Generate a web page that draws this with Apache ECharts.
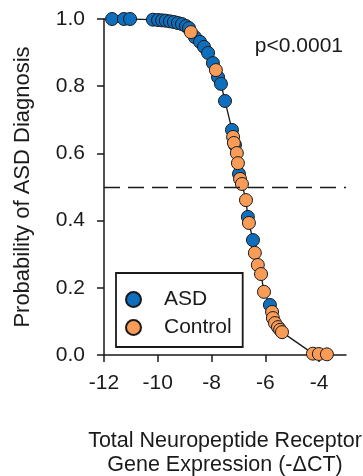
<!DOCTYPE html>
<html>
<head>
<meta charset="utf-8">
<script src="https://cdn.jsdelivr.net/npm/echarts@6/dist/echarts.min.js"></script>
<style>
  html, body { margin: 0; padding: 0; background: #fff; }
  #chart { width: 363px; height: 476px; }
</style>
</head>
<body>
<div id="chart"></div>
<script>
// ASD subjects: [-dCT, predicted probability]
const asdPoints = [
  [-11.70, 1.0], [-11.26, 1.0], [-11.03, 1.0],
  [-10.18, 0.998], [-9.99, 0.997], [-9.84, 0.996], [-9.70, 0.995],
  [-9.55, 0.993], [-9.40, 0.991], [-9.25, 0.988], [-9.10, 0.985],
  [-8.95, 0.979], [-8.84, 0.973], [-8.62, 0.946], [-8.43, 0.932],
  [-8.28, 0.917], [-8.13, 0.899], [-7.95, 0.869], [-7.76, 0.827],
  [-7.65, 0.807], [-7.50, 0.756], [-7.24, 0.670], [-7.13, 0.625],
  [-6.98, 0.539], [-6.65, 0.411], [-6.46, 0.342], [-5.83, 0.149]
];
// Control subjects
const controlPoints = [
  [-8.77, 0.961], [-7.84, 0.848], [-7.20, 0.649], [-7.17, 0.631],
  [-7.06, 0.601], [-7.02, 0.571], [-6.94, 0.524], [-6.87, 0.509],
  [-6.72, 0.461], [-6.61, 0.393], [-6.39, 0.304], [-6.28, 0.268],
  [-6.16, 0.241], [-6.05, 0.188], [-5.75, 0.128], [-5.72, 0.110],
  [-5.64, 0.095], [-5.53, 0.083], [-5.45, 0.075], [-5.38, 0.068],
  [-4.23, 0.004], [-4.01, 0.003], [-3.71, 0.002]
];
// ends of the fitted curve outside the data
const curveEnds = [[-12, 1.0], [-3.6, 0.001]];
const xTicks = [-12, -10, -8, -6, -4];
const cutoff = 0.5;

const curve = asdPoints.concat(controlPoints, curveEnds).sort((a, b) => a[0] - b[0]);

const txt = '#1a1a1a';
const font = 'Liberation Sans, Arial, sans-serif';
const fs = 21;

let myChart = echarts.init(document.getElementById('chart'));
myChart.setOption({
  animation: false,
  grid: { left: 104, right: 17, top: 19, bottom: 121, outerBoundsMode: 'none', containLabel: false },
  xAxis: {
    type: 'value',
    min: -12,
    max: -3,
    splitLine: { show: false },
    axisLine: { onZero: false, lineStyle: { color: txt, width: 1.5 } },
    axisTick: { customValues: xTicks, length: 7, lineStyle: { color: txt, width: 1.5 } },
    axisLabel: { customValues: xTicks, color: txt, fontSize: fs, fontFamily: font, margin: 18 },
    name: 'Total Neuropeptide Receptor\nGene Expression (-ΔCT)',
    nameLocation: 'middle',
    nameGap: 74,
    nameTextStyle: { color: txt, fontSize: 21.5, fontFamily: font, lineHeight: 24 }
  },
  yAxis: {
    type: 'value',
    min: 0,
    max: 1,
    interval: 0.2,
    splitLine: { show: false },
    axisLine: { show: true, lineStyle: { color: txt, width: 1.5 } },
    axisTick: { show: true, length: 7, lineStyle: { color: txt, width: 1.5 } },
    axisLabel: { color: txt, fontSize: fs, fontFamily: font, margin: 19,
      formatter: (v) => v.toFixed(1) },
    name: 'Probability of ASD Diagnosis',
    nameLocation: 'middle',
    nameGap: 70,
    nameTextStyle: { color: txt, fontSize: 22, fontFamily: font }
  },
  legend: {
    orient: 'vertical',
    left: 116,
    top: 273,
    data: ['ASD', 'Control'],
    itemWidth: 15,
    itemHeight: 15,
    itemGap: 7,
    padding: [16, 11, 9, 9],
    borderColor: txt,
    borderWidth: 1.8,
    textStyle: { color: txt, fontSize: fs, fontFamily: font, lineHeight: 21, padding: [0, 0, 0, 18] }
  },
  graphic: [{
    type: 'text',
    right: 20,
    top: 36,
    style: { text: 'p<0.0001', fill: txt, fontSize: fs, fontFamily: font }
  }],
  series: [
    {
      name: 'fit',
      type: 'line',
      data: curve,
      showSymbol: false,
      symbol: 'none',
      lineStyle: { color: txt, width: 1.3 },
      z: 1,
      markLine: {
        silent: true,
        symbol: 'none',
        label: { show: false },
        lineStyle: { color: txt, width: 1.3, type: [16, 8] },
        data: [{ yAxis: cutoff }]
      }
    },
    {
      name: 'ASD',
      type: 'scatter',
      data: asdPoints,
      symbolSize: 13,
      itemStyle: { color: '#0e6fbe', borderColor: '#1a1a1a', borderWidth: 1, opacity: 1 },
      z: 3
    },
    {
      name: 'Control',
      type: 'scatter',
      data: controlPoints,
      symbolSize: 13,
      itemStyle: { color: '#f99c57', borderColor: '#1a1a1a', borderWidth: 1, opacity: 1 },
      z: 4
    }
  ]
});
</script>
</body>
</html>
